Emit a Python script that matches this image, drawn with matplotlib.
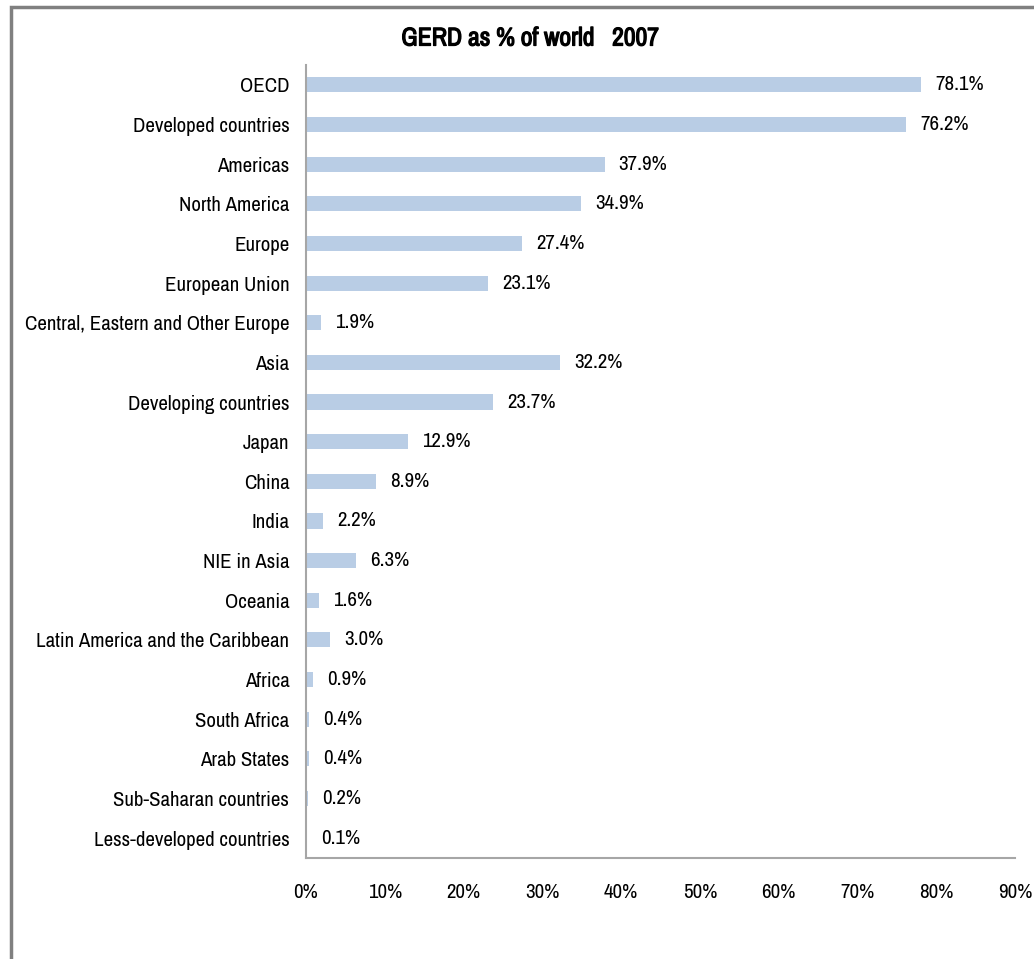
import matplotlib
matplotlib.use("Agg")
import matplotlib.pyplot as plt
import matplotlib.patheffects as pe
from matplotlib import font_manager
from matplotlib.patches import Rectangle

# prefer a narrow face if one is installed, the original uses a condensed font
names = sorted({f.name for f in font_manager.fontManager.ttflist})
narrow = [n for n in names if "Narrow" in n or "Condensed" in n]
plt.rcParams['font.family'] = narrow[:1] + ['Liberation Sans', 'DejaVu Sans']
fs = 15 if narrow else 12.5

# data
regions = ["OECD", "Developed countries", "Americas", "North America", "Europe",
           "European Union", "Central, Eastern and Other Europe", "Asia",
           "Developing countries", "Japan", "China", "India", "NIE in Asia",
           "Oceania", "Latin America and the Caribbean", "Africa", "South Africa",
           "Arab States", "Sub-Saharan countries", "Less-developed countries"]
share = [78.1, 76.2, 37.9, 34.9, 27.4, 23.1, 1.9, 32.2, 23.7, 12.9, 8.9, 2.2,
         6.3, 1.6, 3.0, 0.9, 0.4, 0.4, 0.2, 0.1]
xticks = [0, 10, 20, 30, 40, 50, 60, 70, 80, 90]

W, H = 1034, 959
fig = plt.figure(figsize=(W / 100, H / 100), dpi=100)
ax = fig.add_axes([306 / W, 1 - 858 / H, (1015 - 306) / W, (858 - 65) / H])

pos = list(range(len(regions)))
ax.barh(pos, share, height=0.38, color="#b9cde5")
for p, v in zip(pos, share):
    ax.text(v + 1.8, p, f"{v:.1f}%", va="center", ha="left", fontsize=fs)

ax.set_xlim(0, 90)
ax.set_ylim(len(regions) - 0.5, -0.5)
ax.set_yticks(pos)
ax.set_yticklabels(regions, fontsize=fs)
ax.set_xticks(xticks)
ax.set_xticklabels([f"{t}%" for t in xticks], fontsize=fs)
ax.tick_params(axis="y", length=0, pad=12)
ax.tick_params(axis="x", length=0, pad=18)

for s in ["top", "right"]:
    ax.spines[s].set_visible(False)
for s in ["left", "bottom"]:
    ax.spines[s].set_color("#a6a6a6")
    ax.spines[s].set_linewidth(1.5)

# title looks semi-bold in the original, thicken it a bit
fig.text(530 / W, 1 - 38 / H, "GERD as % of world   2007", ha="center", va="center",
         fontsize=18.5, fontweight="bold",
         path_effects=[pe.withStroke(linewidth=0.9, foreground="black")])

# outer frame of the chart area
fig.patches.append(Rectangle((11 / W, -0.1), 1.2, 1 - 7 / H + 0.1, transform=fig.transFigure,
                             fill=False, edgecolor="#808080", linewidth=2.5, clip_on=False))

fig.savefig("out.png", dpi=100)
